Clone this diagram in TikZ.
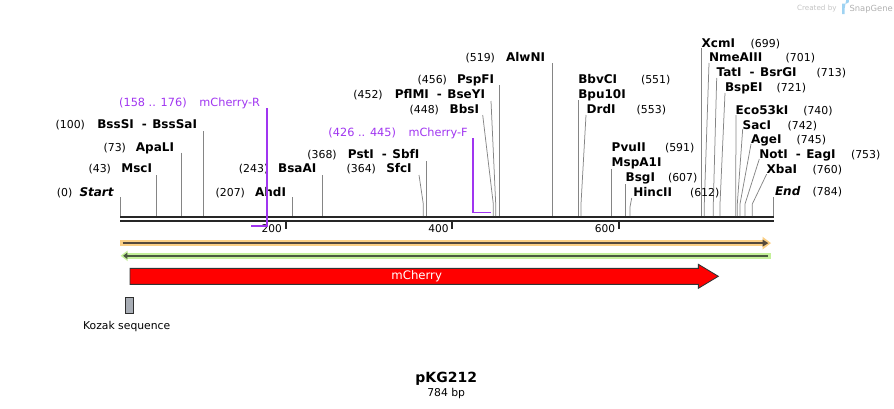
\documentclass[tikz,border=0pt]{standalone}
\usepackage{fontspec}
\setmainfont{DejaVu Sans}
\definecolor{cutgray}{HTML}{858585}
\definecolor{bbone}{HTML}{262626}
\definecolor{primerpurple}{HTML}{A035F0}
\definecolor{orlight}{HTML}{FBCF85}
\definecolor{ordark}{HTML}{55493C}
\definecolor{grlight}{HTML}{C4F09A}
\definecolor{grdark}{HTML}{4A5940}
\definecolor{featred}{HTML}{FF0000}
\definecolor{featedge}{HTML}{333333}
\definecolor{kozakgray}{HTML}{A8ADB5}
\definecolor{wmgray}{HTML}{C4C4C4}
\definecolor{logoblue}{HTML}{9FD3F2}
\newcommand{\dsh}{\hspace{8pt}-\hspace{5.5pt}}
\begin{document}
\begin{tikzpicture}[x=1pt,y=-1pt,
  lbl/.style={inner sep=0pt, outer sep=0pt},
  cutname/.style={lbl, font=\fontsize{12}{13}\selectfont\bfseries},
  cutnum/.style={lbl, font=\fontsize{10.9}{12}\selectfont},
  primtext/.style={lbl, font=\fontsize{11.3}{12}\selectfont, text=primerpurple},
  cutline/.style={draw=cutgray, line width=0.75pt},
  primer/.style={draw=primerpurple, line width=1.7pt},
  tick/.style={draw=bbone, line width=1.8pt},
  ticklbl/.style={lbl, font=\fontsize{10.6}{12}\selectfont, anchor=base east}]
\useasboundingbox (0,0) rectangle (894,408);

% watermark
\node[lbl, anchor=base west, text=wmgray, font=\fontsize{7.2}{8}\selectfont] (wm1) at (797,10.5) {Created by};
\fill[logoblue] (842.2,3.5) rectangle (844.6,14) (844.6,3.5) -- (846.5,3.5) arc[start angle=90,end angle=-90,radius=2.6] -- (844.6,8.7) -- cycle;
\node[lbl, anchor=base west, text=wmgray!90!black, font=\fontsize{8.4}{9}\selectfont] (wm2) at (849.5,11) {SnapGene};

% backbone
\fill[bbone] (120,215.8) rectangle (774,218.4);
\fill[bbone] (120,220) rectangle (774,222.4);
\coordinate (bbL) at (120,216);
\coordinate (bbR) at (774,216);

% ticks
\foreach \tx/\tl in {285.7/200, 452.3/400, 619/600}{
  \draw[tick] (\tx,222) -- (\tx,229.3);
  \node[ticklbl] (t\tl) at (\tx-3.8,232.6) {\tl};
}

% vertical cut lines
\foreach \x/\y in {120.3/197, 156.3/175, 181.7/152.7, 203.3/131, 292.3/197, 322.7/175,
  426.7/161, 499.3/85, 552.3/63, 578.3/100, 611.7/169, 625.7/184, 701.7/48, 773.3/197}{
  \draw[cutline] (\x,\y) -- (\x,216);
}
% slanted cut lines
\foreach \xa/\ya/\xb in {419/175/423.3, 482.7/115/493.3, 491/101/495.7, 586/115/581,
  709/63/704.3, 716.7/78/713.3, 725/93/720, 736/115/735.7, 742.7/129/737.3,
  751/144/740, 759.3/159/745, 766.7/174/752.3}{
  \draw[cutline] (\xa,\ya) -- (\xb,204) -- (\xb,216);
}
\draw[cutline] (631.7,198) -- (630,207) -- (630,216);

% left-side labels: names
\foreach \id/\x/\y/\nm in {start/114/196/\textit{Start}, msc/152/172.7/MscI, apa/174/151/ApaLI,
  bss/197/128.3/BssSI\dsh BssSaI, ahd/286/196/AhdI, bsaa/316.3/172.7/BsaAI,
  pst/419.3/158.3/PstI\dsh SbfI, sfc/411.7/172.7/SfcI, bbs/479/113.3/BbsI,
  pfl/485/98.3/PflMI\dsh BseYI, psp/494/83.3/PspFI, alw/545/61/AlwNI}{
  \node[cutname, anchor=base east] (n-\id) at (\x,\y) {\nm};
}
% left-side labels: numbers
\foreach \id/\x/\y/\nu in {start/72.3/196/(0), msc/111/172.7/(43), apa/126/151/(73),
  bss/85/128.3/(100), ahd/245/196/(207), bsaa/268.3/172.7/(243),
  pst/336.7/158.3/(368), sfc/376/172.7/(364), bbs/439/113.3/(448),
  pfl/382.7/98.3/(452), psp/447/83.3/(456), alw/495/61/(519)}{
  \node[cutnum, anchor=base east] (p-\id) at (\x,\y) {\nu};
}
% right-side labels: names
\foreach \id/\x/\y/\nm in {bbv/578.3/83.3/BbvCI, bpu/578.3/98.3/Bpu10I, drd/586.7/113.3/DrdI,
  pvu/611.7/151.7/PvuII, msp/611.7/166.7/MspA1I, bsg/625.7/181.7/BsgI, hinc/633.3/196.7/HincII,
  xcm/701.7/47.3/XcmI, nme/709/61.7/NmeAIII, tat/716.7/76.7/TatI\dsh BsrGI, bspe/725/91.7/BspEI,
  eco/735.7/114/Eco53kI, sac/742.7/129/SacI, age/751/143.3/AgeI, not/759.3/158.3/NotI\dsh EagI,
  xba/766.7/173.3/XbaI, end/775/195.7/\textit{End}}{
  \node[cutname, anchor=base west] (n-\id) at (\x,\y) {\nm};
}
% right-side labels: numbers
\foreach \id/\x/\y/\nu in {bbv/641/83.3/(551), drd/636.7/113.3/(553), pvu/665/151.7/(591),
  bsg/668/181.7/(607), hinc/690/196.7/(612), xcm/750.7/47.3/(699), nme/785.7/61.7/(701),
  tat/816.7/76.7/(713), bspe/776.7/91.7/(721), eco/803.3/114/(740), sac/787.7/129/(742),
  age/796.7/143.3/(745), not/851/158.3/(753), xba/812.7/173.3/(760), end/812.7/195.7/(784)}{
  \node[cutnum, anchor=base west] (p-\id) at (\x,\y) {\nu};
}

% primers
\node[primtext, anchor=base east] (prR-name) at (260,106) {mCherry-R};
\node[primtext, anchor=base east] (prR-pos) at (186.7,106) {(158 .. 176)};
\draw[primer] (266.7,108) -- (266.7,225.7) -- (251,225.7);
\node[primtext, anchor=base east] (prF-name) at (467.7,136.7) {mCherry-F};
\node[primtext, anchor=base east] (prF-pos) at (396,136.7) {(426 .. 445)};
\draw[primer] (473.3,138.3) -- (473.3,212.5) -- (490.5,212.5);

% orange feature (forward)
\fill[orlight] (120,240) rectangle (763.5,246);
\fill[orlight] (762.5,236.7) -- (771,243.1) -- (762.5,249.5) -- cycle;
\draw[ordark, line width=2.2pt] (122.7,243.1) -- (763,243.1);
\fill[ordark] (762.5,239.5) -- (768.3,243.1) -- (762.5,246.7) -- cycle;

% green feature (reverse)
\fill[grlight] (126.7,252.7) rectangle (771,258.7);
\fill[grlight] (127.5,250.6) -- (120.6,255.8) -- (127.5,261) -- cycle;
\draw[grdark, line width=2.2pt] (126,255.8) -- (768.3,255.8);
\fill[grdark] (127.3,252.6) -- (123.2,255.8) -- (127.3,259) -- cycle;

% mCherry arrow
\draw[fill=featred, draw=featedge, line width=0.9pt]
  (130,268.3) -- (698.3,268.3) -- (698.3,264.3) -- (718.3,276.3) -- (698.3,288.3)
  -- (698.3,284.3) -- (130,284.3) -- cycle;
\node[lbl, text=white, font=\fontsize{11.7}{12}\selectfont] (mcherry) at (416.7,276.3) {mCherry};

% Kozak
\draw[fill=kozakgray, draw=featedge!90!black, line width=0.8pt] (125.2,297.5) rectangle (133.6,313.2);
\node[lbl, font=\fontsize{10.8}{12}\selectfont, anchor=base] (kozak) at (126.7,329.7) {Kozak sequence};

% title
\node[lbl, font=\fontsize{14}{15}\selectfont\bfseries, anchor=base] (title) at (446.2,382.5) {pKG212};
\node[lbl, font=\fontsize{10.8}{12}\selectfont, anchor=base] (size) at (446.2,396.3) {784 bp};
\end{tikzpicture}
\end{document}
